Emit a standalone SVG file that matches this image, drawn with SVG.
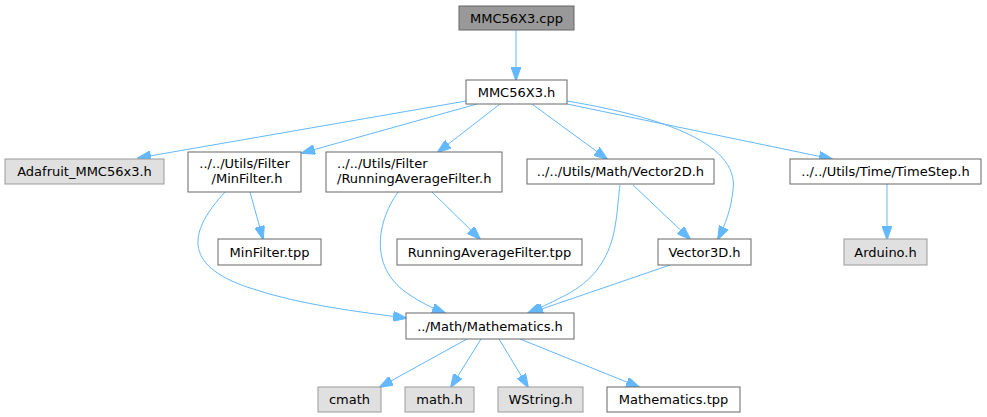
<svg xmlns="http://www.w3.org/2000/svg" width="987" height="417" viewBox="0 0 987 417">
<defs>
<marker id="arr" markerUnits="userSpaceOnUse" markerWidth="14" markerHeight="10" viewBox="0 0 14 10" refX="13" refY="5" orient="auto">
<path d="M0,0 L14,5 L0,10 z" fill="#63b8ff" stroke="#63b8ff"/>
</marker>
</defs>
<style>
rect.w{fill:#fff;stroke:#666;stroke-width:1}
rect.g{fill:#e0e0e0;stroke:#999;stroke-width:1}
rect.d{fill:#999;stroke:#666;stroke-width:1}
text{font-family:"DejaVu Sans",sans-serif;font-size:13px;fill:#000}
text.c{text-anchor:middle}
#edges path{fill:none;stroke:#63b8ff;stroke-width:1;marker-end:url(#arr)}
</style>
<rect width="987" height="417" fill="#fff"/>
<g id="edges">
<path d="M516,30 L516,80"/>
<path d="M466,101 L138,158"/>
<path d="M477,104 L302,153"/>
<path d="M500,104 L438,152"/>
<path d="M532,104 L607,159"/>
<path d="M567,101 C650,115 740,140 733,190 C731,210 725,225 718,239"/>
<path d="M567,104 L832,159"/>
<path d="M250,192 L263,239"/>
<path d="M225,192 C190,230 180,265 250,288 C300,305 360,312 406,318"/>
<path d="M432,192 L480,239"/>
<path d="M398,192 C375,225 370,270 410,295 C420,302 432,308 445,313"/>
<path d="M620,185 C615,220 620,270 560,298 C550,303 540,308 528,313"/>
<path d="M633,185 L690,239"/>
<path d="M670,265 L530,313"/>
<path d="M887,184 L887,239"/>
<path d="M467,339 L380,387"/>
<path d="M481,339 L451,387"/>
<path d="M499,339 L528,387"/>
<path d="M520,339 L639,387"/>
</g>
<g id="n_cpp"><rect class="d" x="459" y="6" width="115" height="24"/><text class="c" x="516.5" y="22.5">MMC56X3.cpp</text></g>
<g id="n_h"><rect class="w" x="466" y="80" width="101" height="24"/><text class="c" x="516.5" y="96.5">MMC56X3.h</text></g>
<g id="n_ada"><rect class="g" x="5" y="159" width="159" height="25"/><text class="c" x="84.5" y="176">Adafruit_MMC56x3.h</text></g>
<g id="n_minh"><rect class="w" x="188" y="152" width="113" height="40"/><text class="c" x="244.5" y="168">../../Utils/Filter</text><text class="c" x="247" y="183">/MinFilter.h</text></g>
<g id="n_mintpp"><rect class="w" x="218" y="239" width="103" height="26"/><text class="c" x="269.5" y="256.5">MinFilter.tpp</text></g>
<g id="n_rafh"><rect class="w" x="326" y="152" width="176" height="40"/><text x="337" y="168">../../Utils/Filter</text><text x="337" y="183">/RunningAverageFilter.h</text></g>
<g id="n_raftpp"><rect class="w" x="397" y="239" width="185" height="26"/><text class="c" x="489.5" y="256.5">RunningAverageFilter.tpp</text></g>
<g id="n_v2"><rect class="w" x="527" y="159" width="187" height="25"/><text class="c" x="620.5" y="176">../../Utils/Math/Vector2D.h</text></g>
<g id="n_v3"><rect class="w" x="658" y="239" width="93" height="26"/><text class="c" x="704.5" y="256.5">Vector3D.h</text></g>
<g id="n_ts"><rect class="w" x="790" y="159" width="191" height="25"/><text class="c" x="885.5" y="176">../../Utils/Time/TimeStep.h</text></g>
<g id="n_ard"><rect class="g" x="844" y="239" width="83" height="26"/><text class="c" x="885.5" y="256.5">Arduino.h</text></g>
<g id="n_math"><rect class="w" x="406" y="313" width="168" height="26"/><text class="c" x="490" y="330.5">../Math/Mathematics.h</text></g>
<g id="n_cmath"><rect class="g" x="318" y="387" width="63" height="25"/><text class="c" x="349.5" y="404">cmath</text></g>
<g id="n_mathh"><rect class="g" x="405" y="387" width="69" height="25"/><text class="c" x="439.5" y="404">math.h</text></g>
<g id="n_ws"><rect class="g" x="498" y="387" width="85" height="25"/><text class="c" x="540.5" y="404">WString.h</text></g>
<g id="n_mtpp"><rect class="w" x="607" y="387" width="133" height="25"/><text class="c" x="673.5" y="404">Mathematics.tpp</text></g>
</svg>
